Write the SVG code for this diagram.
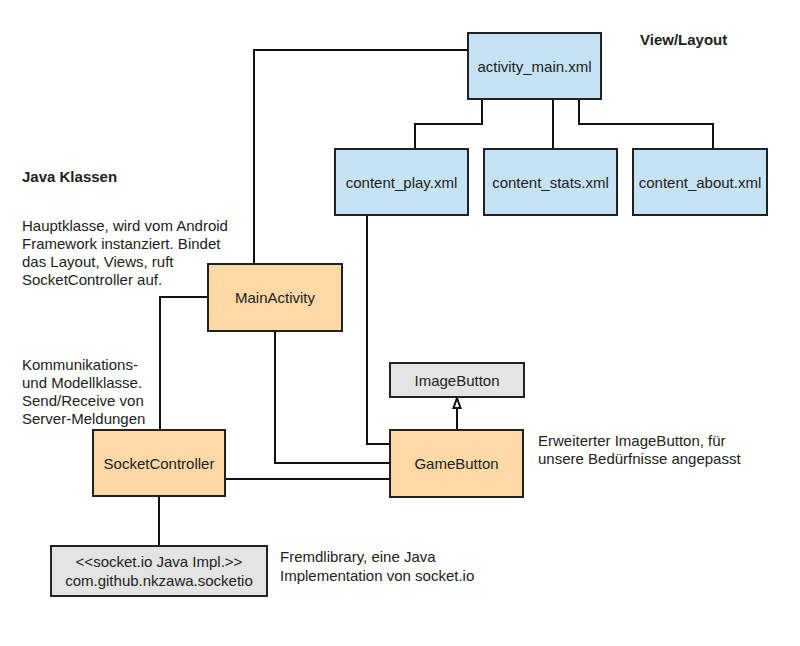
<svg xmlns="http://www.w3.org/2000/svg" width="800" height="646" viewBox="0 0 800 646">
  <defs>
    <marker id="inherit" viewBox="0 0 12 10" refX="11" refY="5" markerWidth="12" markerHeight="10" markerUnits="userSpaceOnUse" orient="auto">
      <path d="M11,5 L1,1.5 L1,8.5 Z" fill="#fff" stroke="#111" stroke-width="2"/>
    </marker>
  </defs>
  <style>
    text { font-family: "Liberation Sans", Arial, sans-serif; font-size: 15px; fill: #222; }
    .lbl { text-anchor: middle; dominant-baseline: central; }
    .head { font-weight: bold; }
    .box { stroke: #222; stroke-width: 2; }
    .xml { fill: #c6e3f6; }
    .cls { fill: #fdd9a5; }
    .ext { fill: #e4e4e4; }
    .conn path { fill: none; stroke: #111; stroke-width: 2; }
  </style>
  <rect width="800" height="646" fill="#fff"/>

  <!-- connectors -->
  <g class="conn">
    <path d="M468,50 H254 V264"/>
    <path d="M482,99 V124 H415 V149"/>
    <path d="M553,99 V149"/>
    <path d="M579,99 V124 H713 V149"/>
    <path d="M367,215 V444 H390"/>
    <path d="M208,297 H160 V430"/>
    <path d="M275,331 V463 H390"/>
    <path d="M225,479 H390"/>
    <path d="M159,496 V546"/>
    <path d="M457,430 V398" marker-end="url(#inherit)"/>
  </g>

  <!-- section headings and notes -->
  <text class="head" x="640" y="45">View/Layout</text>
  <text class="head" x="22" y="182">Java Klassen</text>
  <g>
    <text x="22" y="231">Hauptklasse, wird vom Android</text>
    <text x="22" y="249">Framework instanziert. Bindet</text>
    <text x="22" y="267">das Layout, Views, ruft</text>
    <text x="22" y="285">SocketController auf.</text>
    <text x="22" y="370">Kommunikations-</text>
    <text x="22" y="388">und Modellklasse.</text>
    <text x="22" y="406">Send/Receive von</text>
    <text x="22" y="424">Server-Meldungen</text>
    <text x="538" y="446">Erweiterter ImageButton, für</text>
    <text x="538" y="464">unsere Bedürfnisse angepasst</text>
    <text x="280" y="562">Fremdlibrary, eine Java</text>
    <text x="280" y="581">Implementation von socket.io</text>
  </g>

  <!-- layout files -->
  <g id="activity_main">
    <rect class="box xml" x="468" y="33" width="133" height="66"/>
    <text class="lbl" x="534.5" y="66">activity_main.xml</text>
  </g>
  <g id="content_play">
    <rect class="box xml" x="335" y="149" width="133" height="66"/>
    <text class="lbl" x="401.5" y="182">content_play.xml</text>
  </g>
  <g id="content_stats">
    <rect class="box xml" x="484" y="149" width="133" height="66"/>
    <text class="lbl" x="550.5" y="182">content_stats.xml</text>
  </g>
  <g id="content_about">
    <rect class="box xml" x="633" y="149" width="134" height="66"/>
    <text class="lbl" x="700" y="182">content_about.xml</text>
  </g>

  <!-- java classes -->
  <g id="MainActivity">
    <rect class="box cls" x="208" y="264" width="134" height="67"/>
    <text class="lbl" x="275" y="297.5">MainActivity</text>
  </g>
  <g id="ImageButton">
    <rect class="box ext" x="390" y="363" width="134" height="34"/>
    <text class="lbl" x="457" y="380">ImageButton</text>
  </g>
  <g id="GameButton">
    <rect class="box cls" x="390" y="430" width="133" height="67"/>
    <text class="lbl" x="456.5" y="463.5">GameButton</text>
  </g>
  <g id="SocketController">
    <rect class="box cls" x="93" y="430" width="132" height="66"/>
    <text class="lbl" x="159" y="463">SocketController</text>
  </g>
  <g id="socketio">
    <rect class="box ext" x="51" y="546" width="216" height="50"/>
    <text class="lbl" x="159" y="561">&lt;&lt;socket.io Java Impl.&gt;&gt;</text>
    <text class="lbl" x="159" y="580">com.github.nkzawa.socketio</text>
  </g>
</svg>
